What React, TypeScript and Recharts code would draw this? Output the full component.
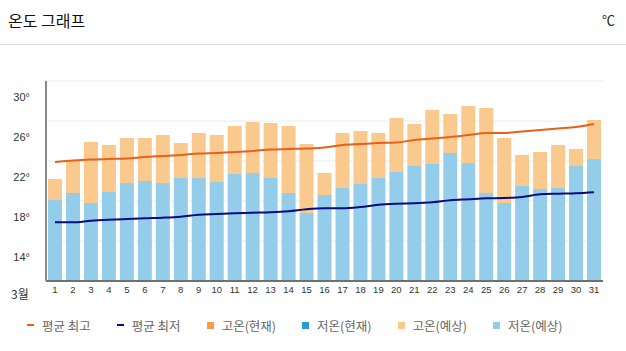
import React from "react";
import { ComposedChart, Bar, Line, XAxis, YAxis, CartesianGrid } from "recharts";

const days = ["1","2","3","4","5","6","7","8","9","10","11","12","13","14","15","16","17","18","19","20","21","22","23","24","25","26","27","28","29","30","31"];
const highTemps = [22.2, 24.0, 25.9, 25.6, 26.3, 26.3, 26.6, 25.8, 26.8, 26.6, 27.5, 27.9, 27.8, 27.5, 25.7, 22.8, 26.8, 27.0, 26.8, 28.3, 27.7, 29.1, 28.7, 29.5, 29.3, 26.3, 24.6, 24.9, 25.6, 25.2, 28.1];
const lowTemps = [20.1, 20.8, 19.8, 20.9, 21.8, 22.0, 21.8, 22.3, 22.3, 21.9, 22.7, 22.8, 22.3, 20.8, 18.8, 20.6, 21.3, 21.7, 22.3, 22.9, 23.5, 23.7, 24.8, 23.8, 20.8, 19.8, 21.5, 21.2, 21.3, 23.5, 24.2];
const avgHigh = [23.9, 24.05, 24.15, 24.2, 24.25, 24.4, 24.5, 24.6, 24.75, 24.8, 24.9, 25.0, 25.15, 25.2, 25.25, 25.35, 25.6, 25.7, 25.8, 25.85, 26.1, 26.25, 26.4, 26.6, 26.8, 26.8, 26.95, 27.1, 27.25, 27.4, 27.7];
const avgLow = [17.87, 17.87, 18.03, 18.13, 18.2, 18.27, 18.33, 18.43, 18.63, 18.7, 18.77, 18.83, 18.87, 18.97, 19.17, 19.27, 19.27, 19.4, 19.63, 19.73, 19.77, 19.87, 20.07, 20.17, 20.27, 20.3, 20.4, 20.67, 20.73, 20.77, 20.87];
const yTicks = [14, 18, 22, 26, 30];
const gridValues = [16, 20, 24, 28, 32];
const monthLabel = "3월";
const title = "온도 그래프";
const unit = "℃";

const legendItems = [
  { label: "평균 최고", color: "#e8601c", kind: "line" },
  { label: "평균 최저", color: "#0a0a80", kind: "line" },
  { label: "고온(현재)", color: "#f79c45", kind: "square" },
  { label: "저온(현재)", color: "#2e9bcc", kind: "square" },
  { label: "고온(예상)", color: "#f9c98e", kind: "square" },
  { label: "저온(예상)", color: "#94cdea", kind: "square" },
];

const data = days.map((d, i) => ({
  day: d,
  low: lowTemps[i],
  diff: +(highTemps[i] - lowTemps[i]).toFixed(2),
  avgHigh: avgHigh[i],
  avgLow: avgLow[i],
}));

const tickFont = "'Liberation Sans', 'DejaVu Sans', sans-serif";
const krFont = "'Noto Sans CJK KR', 'Noto Sans', sans-serif";

const YTick = (props: any) => (
  <text x={props.x} y={props.y} textAnchor="end" fontSize={11} fill="#333" fontFamily={tickFont}>
    {props.payload.value}°
  </text>
);

const XTick = (props: any) => (
  <text x={props.x} y={props.y} dy={8} textAnchor="middle" fontSize={9.5} fill="#333" fontFamily={tickFont}>
    {props.payload.value}
  </text>
);

export default function App() {
  return (
    <div style={{ position: "relative", width: 626, height: 351, background: "#fff", overflow: "hidden" }}>
      <style>{`body{margin:0;}`}</style>
      <div style={{ position: "absolute", left: 8, top: 8, fontSize: 16, lineHeight: "24px", color: "#111", fontFamily: krFont }}>
        {title}
      </div>
      <div style={{ position: "absolute", right: 11, top: 9, fontSize: 13, lineHeight: "22px", color: "#222", fontFamily: krFont }}>
        {unit}
      </div>
      <div style={{ position: "absolute", left: 0, top: 44, width: 626, height: 1, background: "#dddddd" }} />
      <div style={{ position: "absolute", left: 0, top: 0 }}>
        <ComposedChart width={626} height={351} data={data} margin={{ top: 81, right: 23, bottom: 40, left: 0 }}>
          <CartesianGrid vertical={false} horizontalValues={gridValues} stroke="#ececec" strokeWidth={1} />
          <XAxis
            dataKey="day"
            interval={0}
            height={30}
            tickLine={false}
            tickSize={0}
            tickMargin={4}
            axisLine={{ stroke: "#707070", strokeWidth: 2 }}
            tick={<XTick />}
          />
          <YAxis
            width={46}
            domain={[12, 32]}
            ticks={yTicks}
            allowDataOverflow
            tickLine={false}
            tickSize={0}
            tickMargin={16}
            axisLine={{ stroke: "#8a8a8a", strokeWidth: 2 }}
            tick={<YTick />}
          />
          <Bar dataKey="low" stackId="t" fill="#94cdea" barSize={14} isAnimationActive={false} />
          <Bar dataKey="diff" stackId="t" fill="#f9c98e" barSize={14} isAnimationActive={false} />
          <Line type="monotone" dataKey="avgHigh" stroke="#e8601c" strokeWidth={2} dot={false} isAnimationActive={false} />
          <Line type="monotone" dataKey="avgLow" stroke="#0a0a80" strokeWidth={2} dot={false} isAnimationActive={false} />
        </ComposedChart>
      </div>
      <div style={{ position: "absolute", left: 11, top: 286, fontSize: 12, lineHeight: "16px", color: "#333", fontFamily: krFont }}>
        {monthLabel}
      </div>
      <div style={{ position: "absolute", left: 27, top: 316, height: 18, display: "flex", alignItems: "center", fontFamily: krFont, fontSize: 12.5, color: "#666" }}>
        {legendItems.map((it, i) => (
          <div key={i} style={{ display: "flex", alignItems: "center", marginRight: i < legendItems.length - 1 ? 26 : 0 }}>
            {it.kind === "line" ? (
              <span style={{ display: "inline-block", width: 7, height: 2, background: it.color, marginRight: 8 }} />
            ) : (
              <span style={{ display: "inline-block", width: 7, height: 7, background: it.color, marginRight: 8 }} />
            )}
            <span>{it.label}</span>
          </div>
        ))}
      </div>
    </div>
  );
}
